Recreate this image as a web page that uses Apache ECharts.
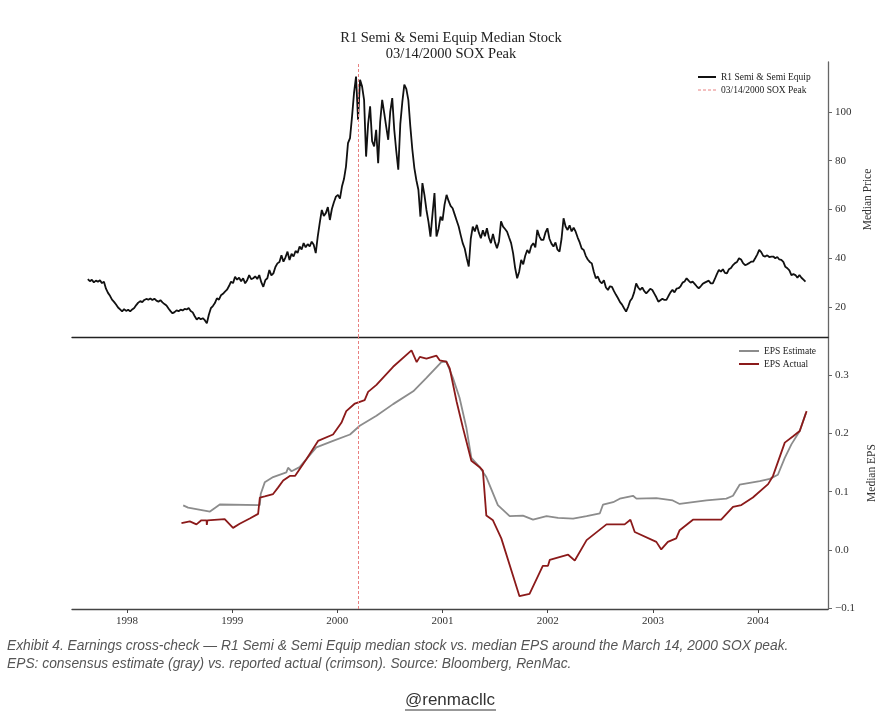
<!DOCTYPE html>
<html>
<head>
<meta charset="utf-8">
<script src="https://cdn.jsdelivr.net/npm/echarts@6/dist/echarts.min.js"></script>
<style>html,body{margin:0;background:#fff}#chart{width:884px;height:718px}</style>
</head>
<body>
<div id="chart"></div>
<script>
// weekly median price, first week below
var priceStart = '1997-08-18';
var priceValues = [
  31.4,30.6,31.2,30.1,30.8,30.4,31.0,29.8,30.4,27.5,
  25.8,24.6,23.0,22.1,21.0,19.8,19.0,18.2,19.1,18.4,
  18.9,18.2,19.0,19.6,20.8,21.8,22.4,22.0,22.9,23.3,
  23.0,23.5,22.9,23.4,22.6,22.2,22.8,21.9,21.2,20.6,
  19.4,18.3,17.4,17.9,18.6,18.3,18.9,18.6,19.2,19.0,
  19.6,18.4,17.8,16.2,14.9,15.6,15.0,15.4,14.6,13.3,
  16.8,19.5,20.4,21.6,23.6,23.0,24.8,25.4,26.3,27.1,
  28.6,30.4,29.8,32.4,31.2,32.0,30.6,31.8,29.7,31.0,
  33.1,31.4,31.8,32.6,31.5,33.1,30.2,28.3,31.0,31.8,
  35.2,33.0,33.8,36.4,37.9,38.5,41.2,38.6,40.4,42.7,
  39.3,41.8,40.7,43.0,42.2,44.8,43.6,46.2,44.5,45.8,
  44.9,46.8,45.5,42.1,49.0,54.6,59.8,57.4,58.5,61.0,
  55.7,60.2,63.0,65.3,66.0,64.5,69.4,72.5,77.6,87.2,
  89.3,98.0,107.8,114.5,96.8,113.2,110.5,105.0,81.7,95.0,
  102.3,88.0,85.9,92.7,79.0,96.0,105.0,99.6,94.0,88.6,
  100.0,105.7,92.7,84.0,76.3,95.0,104.0,111.2,109.5,105.0,
  94.0,84.5,77.0,72.0,68.1,57.1,70.8,66.0,59.8,55.0,
  48.9,58.0,66.7,48.9,52.0,57.1,55.5,62.0,66.0,63.5,
  61.5,60.5,58.0,55.5,53.0,49.5,46.2,44.0,40.0,36.6,
  48.0,53.0,51.0,53.7,50.5,48.2,51.5,49.0,52.3,48.5,
  46.2,50.0,46.5,44.1,47.0,55.1,53.0,52.0,50.9,48.5,
  46.2,42.0,36.0,31.8,34.5,39.3,37.5,41.0,43.4,42.0,
  45.0,46.2,44.5,51.6,49.0,47.5,47.5,50.5,52.3,48.0,
  46.0,44.8,46.5,43.5,42.7,48.0,56.4,53.0,51.6,53.5,
  51.0,52.5,50.9,48.5,46.5,44.0,43.4,41.0,39.5,38.5,
  37.9,34.5,31.8,32.5,30.5,29.7,31.0,28.0,27.0,28.5,
  28.3,26.5,25.0,23.6,22.0,21.0,19.5,18.1,20.0,22.5,
  23.6,26.0,29.7,28.0,27.0,28.0,26.5,25.6,26.5,27.5,
  27.0,25.5,24.0,22.2,22.8,23.4,22.9,22.9,24.5,26.0,
  27.0,26.0,27.5,27.7,28.5,30.0,30.5,31.8,30.8,30.0,
  30.4,29.5,28.5,27.7,28.5,29.5,30.0,30.4,30.8,29.7,
  29.7,31.5,33.5,35.2,34.5,35.5,34.0,33.8,35.5,36.0,
  37.2,38.0,38.5,40.0,39.5,38.0,37.2,37.5,38.0,38.6,
  38.6,40.0,41.5,43.4,42.5,41.0,40.7,41.2,40.5,40.7,
  40.7,40.0,40.5,39.5,39.3,38.5,36.5,35.9,35.0,33.1,
  33.5,33.1,32.0,33.1,32.0,31.2,30.4
];

var estDates = ['1998-07-15','1998-08-01','1998-10-16','1998-11-19','1999-04-07','1999-04-10','1999-04-24','1999-05-23',
  '1999-07-08','1999-07-14','1999-07-26','1999-08-23','1999-10-20','1999-12-17','2000-02-14','2000-03-19','2000-05-16',
  '2000-07-13','2000-09-21','2000-11-06','2000-12-28','2001-01-14','2001-02-06','2001-03-01','2001-03-25','2001-04-11',
  '2001-05-10','2001-06-02','2001-07-12','2001-08-22','2001-10-07','2001-11-11','2001-12-28','2002-02-06','2002-03-30',
  '2002-05-16','2002-07-01','2002-07-12','2002-08-16','2002-09-08','2002-10-24','2002-11-05','2003-01-13','2003-03-11',
  '2003-04-04','2003-05-20','2003-07-06','2003-09-13','2003-10-06','2003-10-29','2004-01-07','2004-02-11','2004-03-10',
  '2004-04-03','2004-04-26','2004-05-25','2004-06-15'];
var estValues = [0.0765,0.0726,0.066,0.078,0.077,0.096,0.116,0.125,
  0.133,0.141,0.135,0.142,0.176,0.187,0.198,0.213,0.230,
  0.250,0.272,0.295,0.322,0.323,0.295,0.261,0.209,0.158,
  0.142,0.125,0.077,0.058,0.059,0.052,0.058,0.055,0.054,
  0.058,0.063,0.078,0.082,0.088,0.093,0.088,0.089,0.085,
  0.079,0.082,0.085,0.088,0.093,0.112,0.118,0.122,0.129,
  0.158,0.181,0.204,0.234];

var actDates = ['1998-07-09','1998-08-07','1998-08-30','1998-09-16','1998-10-04','1998-10-05','1998-10-07','1998-12-06',
  '1999-01-04','1999-01-27','1999-03-03','1999-04-01','1999-04-07','1999-04-24','1999-05-23','1999-06-09','1999-06-27',
  '1999-07-20','1999-08-07','1999-09-16','1999-10-26','1999-12-17','2000-01-15','2000-02-01','2000-03-02','2000-04-05',
  '2000-04-17','2000-05-16','2000-07-13','2000-09-15','2000-10-03','2000-10-14','2000-11-06','2000-12-11','2000-12-22',
  '2001-01-14','2001-01-26','2001-02-19','2001-03-13','2001-04-11','2001-05-10','2001-05-21','2001-06-02','2001-06-25',
  '2001-07-24','2001-09-25','2001-10-30','2001-12-15','2002-01-02','2002-01-08','2002-03-13','2002-04-05','2002-05-16',
  '2002-07-24','2002-09-25','2002-10-15','2002-10-30','2003-01-13','2003-01-30','2003-02-22','2003-03-23','2003-04-04',
  '2003-05-20','2003-08-26','2003-10-06','2003-11-04','2003-12-14','2004-02-05','2004-02-22','2004-04-03','2004-05-02',
  '2004-05-25','2004-06-18'];
var actValues = [0.046,0.049,0.044,0.051,0.051,0.043,0.051,0.053,
  0.038,0.045,0.054,0.062,0.090,0.092,0.096,0.107,0.119,
  0.127,0.127,0.156,0.187,0.198,0.218,0.238,0.251,0.257,
  0.271,0.283,0.314,0.342,0.322,0.331,0.328,0.333,0.325,
  0.323,0.311,0.254,0.209,0.153,0.142,0.136,0.059,0.051,
  0.020,-0.079,-0.075,-0.027,-0.027,-0.017,-0.008,-0.018,0.017,
  0.044,0.044,0.052,0.031,0.014,0.001,0.014,0.020,0.034,
  0.052,0.052,0.074,0.077,0.090,0.113,0.127,0.184,0.195,
  0.204,0.238];

var yearTicks = [1998, 1999, 2000, 2001, 2002, 2003, 2004];
var priceTicks = [20, 40, 60, 80, 100];
var epsTicks = [-0.1, 0.0, 0.1, 0.2, 0.3];
var peakDate = '2000-03-14';

function toYear(s) {
    var d = new Date(s + 'T00:00:00Z');
    var y = d.getUTCFullYear();
    var a = Date.UTC(y, 0, 1), b = Date.UTC(y + 1, 0, 1);
    return y + (d.getTime() - a) / (b - a);
}
function addDays(s, n) {
    var d = new Date(s + 'T00:00:00Z');
    d.setUTCDate(d.getUTCDate() + n);
    return d.toISOString().slice(0, 10);
}

var priceData = priceValues.map(function (v, i) { return [toYear(addDays(priceStart, 7 * i)), v]; });
var estData = estDates.map(function (d, i) { return [toYear(d), estValues[i]]; });
var actData = actDates.map(function (d, i) { return [toYear(d), actValues[i]]; });
var peakX = toYear(peakDate);

var serif = "'Liberation Serif', 'DejaVu Serif', serif";
var sans = '"Liberation Sans", Arial, sans-serif';
var xMin = 1997.477, xMax = 2004.665;
var peakColor = '#e88080';
var peakLine = {
    symbol: ['none', 'none'], silent: true, label: { show: false },
    lineStyle: { color: peakColor, type: [3, 2], width: 1 },
    data: [{ xAxis: peakX }]
};

var myChart = echarts.init(document.getElementById('chart'));
var option = {
    animation: false,
    backgroundColor: '#fff',
    graphic: [
        { type: 'text', x: 451, y: 30, style: { text: 'R1 Semi & Semi Equip Median Stock\n03/14/2000 SOX Peak', textAlign: 'center', font: '14.5px ' + serif, lineHeight: 16, fill: '#222' } },
        { type: 'text', left: 7, top: 639, style: { text: 'Exhibit 4. Earnings cross-check \u2014 R1 Semi & Semi Equip median stock vs. median EPS around the March 14, 2000 SOX peak.', font: 'italic 13.8px ' + sans, fill: '#555' } },
        { type: 'text', left: 7, top: 657, style: { text: 'EPS: consensus estimate (gray) vs. reported actual (crimson). Source: Bloomberg, RenMac.', font: 'italic 13.8px ' + sans, fill: '#555' } },
        { type: 'text', x: 450, y: 692, style: { text: '@renmacllc', textAlign: 'center', font: '17px ' + sans, fill: '#333' } },
        { type: 'line', shape: { x1: 405, y1: 710, x2: 496, y2: 710 }, style: { stroke: '#333', lineWidth: 1 } }
    ],
    legend: [
        {
            left: 692, top: 67, orient: 'vertical', itemGap: 3, itemWidth: 18, itemHeight: 10,
            itemStyle: { opacity: 0 },
            textStyle: { fontFamily: serif, fontSize: 9.5, color: '#222' },
            data: [
                { name: 'R1 Semi & Semi Equip' },
                { name: '03/14/2000 SOX Peak', lineStyle: { type: [3, 2], width: 1, color: peakColor } }
            ]
        },
        {
            left: 733, top: 341, orient: 'vertical', itemGap: 3, itemWidth: 20, itemHeight: 10,
            itemStyle: { opacity: 0 },
            textStyle: { fontFamily: serif, fontSize: 9.5, color: '#222' },
            data: ['EPS Estimate', 'EPS Actual']
        }
    ],
    grid: [
        { left: 72, right: 56, top: 62, height: 275, outerBoundsMode: 'none' },
        { left: 72, right: 56, top: 337, height: 272, outerBoundsMode: 'none' }
    ],
    xAxis: [
        {
            type: 'value', gridIndex: 0, min: xMin, max: xMax,
            axisLine: { show: true, onZero: false, lineStyle: { color: '#222', width: 1.3 } },
            axisTick: { show: false }, axisLabel: { show: false }, splitLine: { show: false }
        },
        {
            type: 'value', gridIndex: 1, min: xMin, max: xMax,
            axisLine: { show: true, onZero: false, lineStyle: { color: '#444', width: 1.3 } },
            axisTick: { show: true, length: 4, customValues: yearTicks, lineStyle: { color: '#444' } },
            axisLabel: { customValues: yearTicks, margin: 7, fontFamily: serif, fontSize: 11, color: '#333', formatter: function (v) { return String(v); } },
            splitLine: { show: false }
        }
    ],
    yAxis: [
        {
            type: 'value', gridIndex: 0, position: 'right', min: 7.7, max: 120.5,
            name: 'Median Price', nameLocation: 'middle', nameRotate: 90, nameGap: 33,
            nameTextStyle: { fontFamily: serif, fontSize: 11.5, color: '#333' },
            axisLine: { show: true, onZero: false, lineStyle: { color: '#666', width: 1.3 } },
            axisTick: { show: true, length: 4, customValues: priceTicks, lineStyle: { color: '#666' } },
            axisLabel: { customValues: priceTicks, margin: 7, fontFamily: serif, fontSize: 11, color: '#333' },
            splitLine: { show: false }
        },
        {
            type: 'value', gridIndex: 1, position: 'right', min: -0.101, max: 0.365,
            name: 'Median EPS', nameLocation: 'middle', nameRotate: 90, nameGap: 33,
            nameTextStyle: { fontFamily: serif, fontSize: 11.5, color: '#333' },
            axisLine: { show: true, onZero: false, lineStyle: { color: '#666', width: 1.3 } },
            axisTick: { show: true, length: 4, customValues: epsTicks, lineStyle: { color: '#666' } },
            axisLabel: {
                customValues: epsTicks, margin: 7, fontFamily: serif, fontSize: 11, color: '#333',
                formatter: function (v) { return v < 0 ? '\u2212' + Math.abs(v).toFixed(1) : v.toFixed(1); }
            },
            splitLine: { show: false }
        }
    ],
    series: [
        {
            name: 'R1 Semi & Semi Equip', type: 'line', xAxisIndex: 0, yAxisIndex: 0,
            data: priceData, symbol: 'none', lineStyle: { color: '#111', width: 1.8 }, itemStyle: { color: '#111' }
        },
        {
            name: '03/14/2000 SOX Peak', type: 'line', xAxisIndex: 0, yAxisIndex: 0, data: [],
            symbol: 'none', lineStyle: { color: peakColor, type: [3, 2], width: 1 }, itemStyle: { color: peakColor },
            markLine: peakLine
        },
        {
            name: 'EPS Estimate', type: 'line', xAxisIndex: 1, yAxisIndex: 1,
            data: estData, symbol: 'none', lineStyle: { color: '#8c8c8c', width: 1.8 }, itemStyle: { color: '#8c8c8c' }
        },
        {
            name: 'EPS Actual', type: 'line', xAxisIndex: 1, yAxisIndex: 1,
            data: actData, symbol: 'none', lineStyle: { color: '#8b1a1a', width: 1.8 }, itemStyle: { color: '#8b1a1a' },
            markLine: peakLine
        }
    ]
};
myChart.setOption(option);
</script>
</body>
</html>
